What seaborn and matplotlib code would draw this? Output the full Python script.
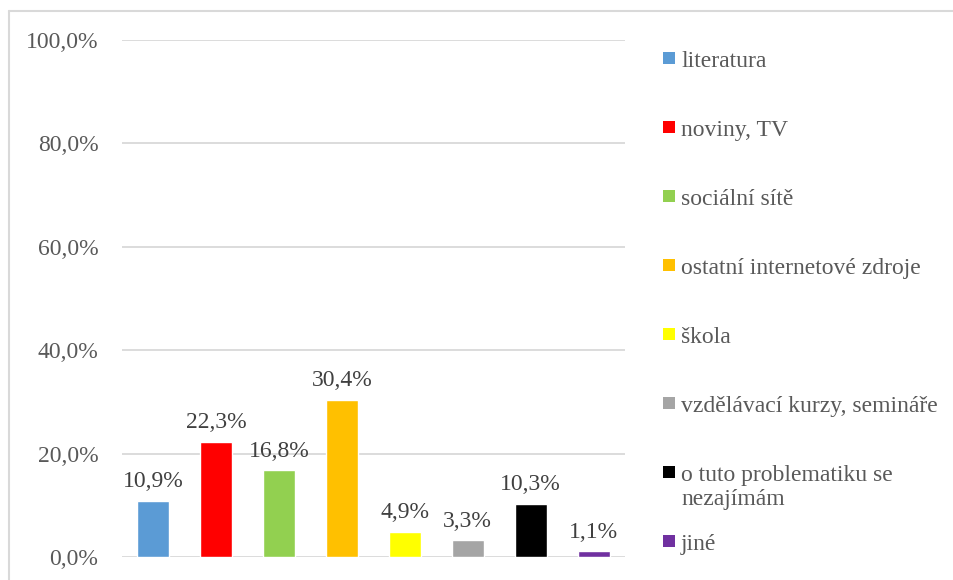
import matplotlib
matplotlib.use("Agg")
import matplotlib.pyplot as plt
from matplotlib.patches import Rectangle
from matplotlib.ticker import FuncFormatter
import seaborn as sns
import pandas as pd

# Sources of information (share of respondents)
categories = [
    "literatura",
    "noviny, TV",
    "sociální sítě",
    "ostatní internetové zdroje",
    "škola",
    "vzdělávací kurzy, semináře",
    "o tuto problematiku se\nnezajímám",
    "jiné",
]
shares = [0.109, 0.223, 0.168, 0.304, 0.049, 0.033, 0.103, 0.011]
colors = ["#5B9BD5", "#FF0000", "#92D050", "#FFC000",
          "#FFFF00", "#A5A5A5", "#000000", "#7030A0"]
y_ticks = [0.0, 0.2, 0.4, 0.6, 0.8, 1.0]

df = pd.DataFrame({"zdroj": categories, "podil": shares})

sns.set_theme(style="white")
plt.rcParams["font.family"] = ["Liberation Serif", "DejaVu Serif"]

FS = 17
W, H = 954, 580
fig = plt.figure(figsize=(W / 100, H / 100), dpi=100)
ax = fig.add_axes([122 / W, 1 - 557 / H, (625 - 122) / W, (557 - 40) / H])

sns.barplot(data=df, x="zdroj", y="podil", hue="zdroj", palette=colors,
            width=0.51, legend=False, saturation=1, ax=ax, zorder=3)

ax.set_ylim(0, 1.0)
ax.set_xlim(-0.5, len(categories) - 0.5)
ax.set_yticks(y_ticks)
ax.yaxis.set_major_formatter(
    FuncFormatter(lambda v, _: f"{v * 100:.1f}%".replace(".", ",")))
ax.tick_params(axis="y", labelsize=FS, labelcolor="#595959", length=0, pad=17)
ax.set_xticks([])
ax.set_xlabel("")
ax.set_ylabel("")
ax.grid(axis="y", color="#D9D9D9", linewidth=1.3, zorder=0)
for s in ax.spines.values():
    s.set_visible(False)

# value labels above bars
for i, v in enumerate(shares):
    ax.annotate(f"{v * 100:.1f}%".replace(".", ","), (i, v),
                xytext=(0, 6), textcoords="offset points",
                ha="center", va="bottom", fontsize=FS, color="#404040")

# legend: colored squares with labels, evenly spaced
for i, (lab, col) in enumerate(zip(categories, colors)):
    yc = 58 + 69 * i
    fig.patches.append(Rectangle((663 / W, 1 - (yc + 6) / H), 12 / W, 12 / H,
                                 transform=fig.transFigure, facecolor=col,
                                 edgecolor="none"))
    fig.text(681 / W, 1 - (yc - 7) / H, lab, ha="left", va="top",
             fontsize=FS, color="#595959", linespacing=1.2)

# chart area frame (top and left edges visible)
fig.add_artist(plt.Line2D([9 / W, 1.01], [1 - 10.5 / H, 1 - 10.5 / H],
                          transform=fig.transFigure, color="#D9D9D9", lw=1.5))
fig.add_artist(plt.Line2D([9 / W, 9 / W], [0, 1 - 10.5 / H],
                          transform=fig.transFigure, color="#D9D9D9", lw=1.5))

fig.savefig("out.png", dpi=100, facecolor="white")
